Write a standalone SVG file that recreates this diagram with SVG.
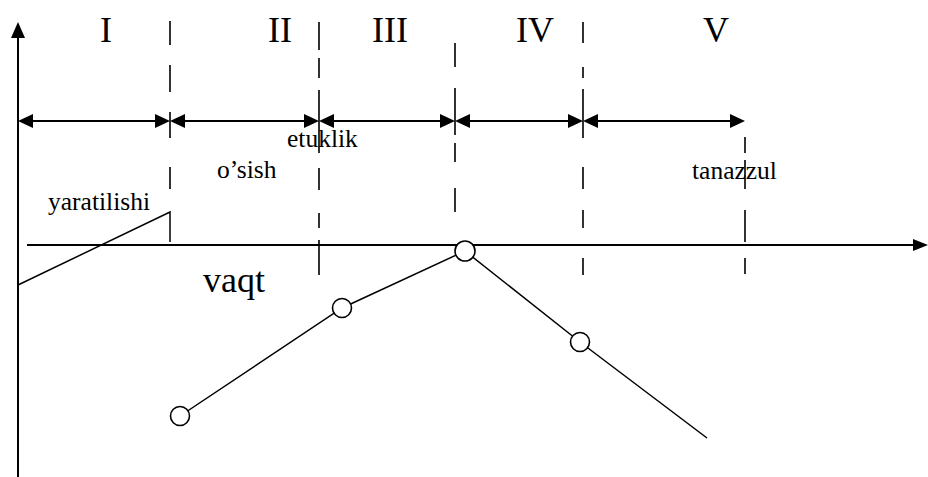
<svg xmlns="http://www.w3.org/2000/svg" width="928" height="477" viewBox="0 0 928 477">
<style>
.ax{stroke:#000;stroke-width:2;fill:none}
.dim{stroke:#000;stroke-width:2;fill:none}
.ds{stroke:#000;stroke-width:1.6;fill:none}
.ln{stroke:#000;stroke-width:1.5;fill:none}
.pt{stroke:#000;stroke-width:1.6;fill:#fff}
.ah{fill:#000}
.num{font-family:"Liberation Serif","Times New Roman",serif;font-size:36px;fill:#000;text-anchor:middle}
.lbl{font-family:"Liberation Serif","Times New Roman",serif;font-size:25.5px;fill:#000}
.big{font-family:"Liberation Serif","Times New Roman",serif;font-size:36px;fill:#000}
</style>
<rect width="928" height="477" fill="#fff"/>
<g id="axes">
<line class="ax" x1="18" y1="477" x2="18" y2="36"/>
<polygon class="ah" points="18,22 11,38 25,38"/>
<line class="ax" x1="27" y1="245" x2="915" y2="245"/>
<polygon class="ah" points="928,245 913,239 913,251"/>
</g>
<g id="dividers">
<path class="ds" d="M170,21V45M170,65V92M170,112V138M170,167V189"/>
<path class="ds" d="M319,22V50M319,58V78M319,90V153M319,168V190M319,213V228M319,240V275"/>
<path class="ds" d="M455,43V67M455,88V135M455,143V162M455,188V212"/>
<path class="ds" d="M583,22V43M583,67V78M583,89V138M583,167V189M583,210V228M583,258V275"/>
<path class="ds" d="M745,137V153M745,160V189M745,210V242M745,258V274"/>
</g>
<g id="connectors">
<line class="dim" x1="30" y1="121" x2="158" y2="121"/>
<polygon class="ah" points="18,121 33,114 33,128"/>
<polygon class="ah" points="170,121 155,114 155,128"/>
<line class="dim" x1="182" y1="121" x2="307" y2="121"/>
<polygon class="ah" points="170,121 185,114 185,128"/>
<polygon class="ah" points="319,121 304,114 304,128"/>
<line class="dim" x1="331" y1="121" x2="443" y2="121"/>
<polygon class="ah" points="319,121 334,114 334,128"/>
<polygon class="ah" points="455,121 440,114 440,128"/>
<line class="dim" x1="467" y1="121" x2="571" y2="121"/>
<polygon class="ah" points="455,121 470,114 470,128"/>
<polygon class="ah" points="583,121 568,114 568,128"/>
<line class="dim" x1="595" y1="121" x2="733" y2="121"/>
<polygon class="ah" points="583,121 598,114 598,128"/>
<polygon class="ah" points="745,121 730,114 730,128"/>
<polyline class="ln" points="18,285 170,212 170,242"/>
<polyline class="ln" points="180,416 342,308 465,251 580,342 707,438"/>
</g>
<g id="n1"><circle class="pt" cx="180" cy="416" r="9.5"/></g>
<g id="n2"><circle class="pt" cx="342" cy="308" r="9.5"/></g>
<g id="n3"><circle class="pt" cx="465" cy="251" r="10"/></g>
<g id="n4"><circle class="pt" cx="580" cy="342" r="9.5"/></g>
<g id="labels">
<text class="num" x="106" y="42">I</text>
<text class="num" x="280" y="42">II</text>
<text class="num" x="390" y="42">III</text>
<text class="num" x="535" y="42">IV</text>
<text class="num" x="716" y="42">V</text>
<text class="lbl" x="287" y="147">etuklik</text>
<text class="lbl" x="217" y="178">o’sish</text>
<text class="lbl" x="48" y="210">yaratilishi</text>
<text class="lbl" x="692" y="179">tanazzul</text>
<text class="big" x="203" y="292">vaqt</text>
</g>
</svg>
